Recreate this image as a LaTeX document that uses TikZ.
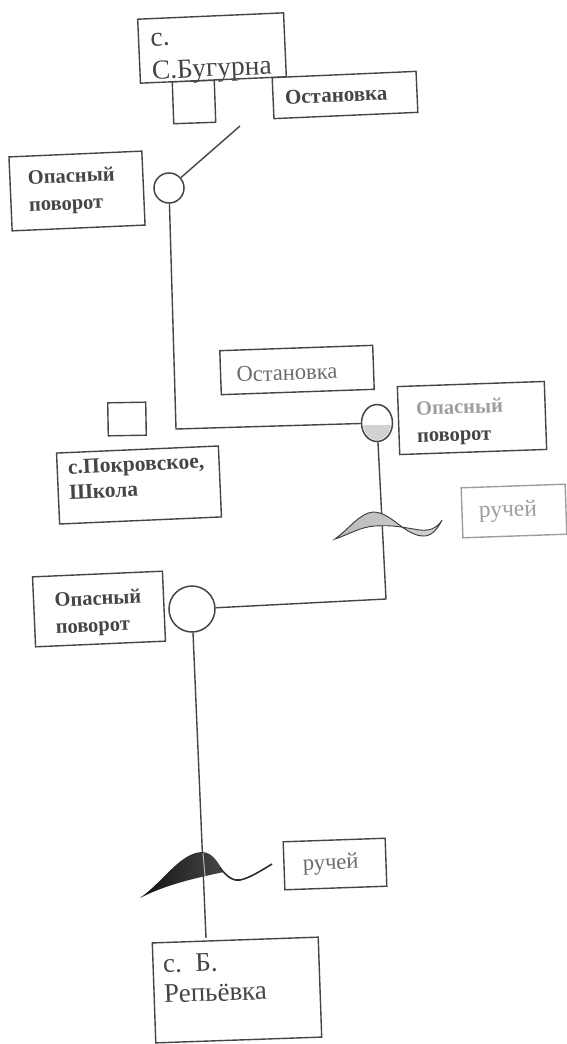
\documentclass[tikz,border=0pt]{standalone}
\usepackage{fontspec}
\setmainfont{Liberation Serif}
\usetikzlibrary{shapes.geometric}
\definecolor{ink}{gray}{0.27}
\definecolor{softink}{gray}{0.42}
\definecolor{paleink}{gray}{0.62}
\tikzset{
  box/.style n args={3}{draw=ink,line width=1.4pt,rectangle,fill=white,align=left,
    minimum width=#1pt,minimum height=#2pt,rotate=#3,inner ysep=0pt,text=ink},
  square/.style n args={3}{draw=ink,line width=1.4pt,rectangle,inner sep=0pt,
    minimum width=#1pt,minimum height=#2pt,rotate=#3},
  turn/.style={draw=ink,line width=1.5pt,circle,inner sep=0pt,fill=white},
  link/.style={draw=ink,line width=1.4pt},
  dangertext/.style={font=\bfseries\fontsize{20.5}{27}\selectfont},
}
\begin{document}
\begin{tikzpicture}[x=1pt,y=-1pt]
\useasboundingbox (0,0) rectangle (567,1044);
\fill[white] (0,0) rectangle (567,1044);

\node[square={42}{42}{2}] (sq1) at (194,102) {};
\node[box={146}{64}{2.5},font=\fontsize{27.5}{33}\selectfont,text width=122pt,inner xsep=12pt,inner ysep=-6pt] (bugurna) at (212,48)
  {\rule{0pt}{30pt}с.\\С.Бугурна};
\node[box={144}{41}{2.5},font=\bfseries\fontsize{21}{24}\selectfont,text width=120pt,inner xsep=12pt] (stop1) at (345,95) {Остановка};
\node[box={133}{74}{2.5},dangertext,text width=97pt,inner xsep=18pt] (danger1) at (77,191) {Опасный\\поворот};
\node[turn,minimum size=30pt] (c1) at (169,188) {};
\coordinate (free) at (240,126);
\draw[link] (c1) -- (free);

\node[box={153}{44}{2},font=\fontsize{22.5}{26}\selectfont,text width=121pt,inner xsep=16pt,text=softink] (stop2) at (297,370) {\rule{0pt}{20pt}Остановка};
\node[box={147}{68}{2},dangertext,text width=111pt,inner xsep=18pt] (danger2) at (472,418)
  {\rule{0pt}{22pt}\textcolor{paleink}{Опасный}\\поворот};
\node[turn,draw=ink,ellipse,minimum width=31pt,minimum height=37pt] (c2) at (377,423) {};
\begin{scope}
  \clip (362,425) rectangle (392,442);
  \fill[gray!35] (377,423) ellipse (14pt and 17pt);
\end{scope}
\coordinate (bend1) at (176,429);
\draw[link] (c1) -- (bend1) -- (c2);

\node[square={38}{33}{1}] (sq2) at (127,419) {};
\node[box={162}{71}{2.5},font=\bfseries\fontsize{21.5}{25}\selectfont,text width=140pt,inner xsep=11pt] (school) at (139,485)
  {с.Покровское,\\Школа\rule[-17pt]{0pt}{17pt}};

\node[box={104}{50}{2},draw=paleink,text=paleink,font=\fontsize{23.5}{26}\selectfont,text width=84pt,inner xsep=10pt] (stream1) at (514,511) {\hspace{7pt}ручей};

\node[turn,minimum size=46pt] (c3) at (192,609) {};
\node[box={130}{70}{2.5},dangertext,text width=106pt,inner xsep=12pt] (danger3) at (99,609) {\rule{0pt}{23pt}\hspace{9pt}Опасный\\\hspace{9pt}поворот};
\coordinate (bend2) at (386,599);
\draw[link] (c2) -- (bend2) -- (c3);

\shade[left color=gray!55,right color=gray!35,draw=gray!45!black,line width=0.9pt] (335,539)
  .. controls (350,528) and (360,513) .. (373,512)
  .. controls (392,512) and (405,537) .. (425,536)
  .. controls (433,535) and (438,528) .. (442,520)
  .. controls (437,529) and (428,531) .. (420,530)
  .. controls (400,527) and (395,525) .. (375,526)
  .. controls (360,527) and (350,534) .. (335,539) -- cycle;

\node[box={166}{100}{2},font=\fontsize{27}{30}\selectfont,text width=146pt,inner xsep=10pt] (repevka) at (237,990)
  {с. Б.\\Репьёвка\rule[-27pt]{0pt}{27pt}};
\coordinate (entry) at (206,938);
\draw[link] (c3) -- (entry);

\shade[left color=gray!15!black,right color=gray!55!black] (140,898)
  .. controls (165,880) and (180,853) .. (202,852)
  .. controls (214,852) and (220,867) .. (224,872)
  .. controls (195,878) and (165,885) .. (140,898) -- cycle;
\draw[draw=gray!35!black,line width=1.6pt] (220,868)
  .. controls (228,878) and (234,881) .. (240,880)
  .. controls (250,878) and (262,870) .. (272,864);
\draw[draw=gray!60,line width=1pt] (203,853) -- (205,876);

\node[box={102}{48}{2},draw=ink,text=softink,font=\fontsize{22.5}{26}\selectfont,text width=82pt,inner xsep=10pt] (stream2) at (335,864) {\hspace{9pt}ручей};
\end{tikzpicture}
\end{document}
